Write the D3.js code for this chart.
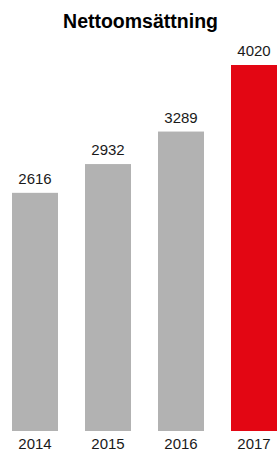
<!DOCTYPE html>
<html lang="sv">
<head>
    <meta charset="UTF-8">
    <title>Nettoomsättning</title>
    <script src="https://d3js.org/d3.v7.min.js"></script>
    <style>
        body {
            margin: 0;
            background-color: #ffffff;
            font-family: 'Liberation Sans', Arial, sans-serif;
        }
        .axis path, .axis line {
            display: none;
        }
        .axis text {
            font-size: 15px;
            fill: #1a1a1a;
        }
    </style>
</head>
<body>
    <svg width="277" height="452" class="chart"></svg>

    <script>
        // Chart data
        const years = ["2014", "2015", "2016", "2017"];
        const values = [2616, 2932, 3289, 4020];
        const barColors = ["#b2b2b2", "#b2b2b2", "#b2b2b2", "#e30613"];
        const title = "Nettoomsättning";

        const svg = d3.select(".chart");
        const baseline = 431;

        const xScale = d3.scaleBand()
            .domain(years)
            .range([12, 277])
            .paddingInner(27 / 73)
            .paddingOuter(0);

        const yScale = d3.scaleLinear()
            .domain([0, 4020])
            .range([baseline, 65]);

        const data = years.map((y, i) => ({ year: y, value: values[i], color: barColors[i] }));

        // Bars
        svg.selectAll(".bar")
            .data(data)
            .enter()
            .append("rect")
            .attr("class", "bar")
            .attr("x", d => xScale(d.year))
            .attr("y", d => yScale(d.value))
            .attr("width", xScale.bandwidth())
            .attr("height", d => baseline - yScale(d.value))
            .attr("fill", d => d.color);

        // Value labels
        svg.selectAll(".value-label")
            .data(data)
            .enter()
            .append("text")
            .attr("class", "value-label")
            .attr("x", d => xScale(d.year) + xScale.bandwidth() / 2)
            .attr("y", d => yScale(d.value) - 9)
            .attr("text-anchor", "middle")
            .style("font-size", "15px")
            .style("fill", "#1a1a1a")
            .text(d => d.value);

        // Year axis
        svg.append("g")
            .attr("class", "axis axis--x")
            .attr("transform", `translate(0, ${baseline})`)
            .call(d3.axisBottom(xScale).tickSize(0).tickPadding(7.5));

        // Title
        svg.append("text")
            .attr("x", 140.5)
            .attr("y", 28)
            .attr("text-anchor", "middle")
            .style("font-size", "19.5px")
            .style("font-weight", "bold")
            .style("fill", "#000")
            .text(title);
    </script>
</body>
</html>
